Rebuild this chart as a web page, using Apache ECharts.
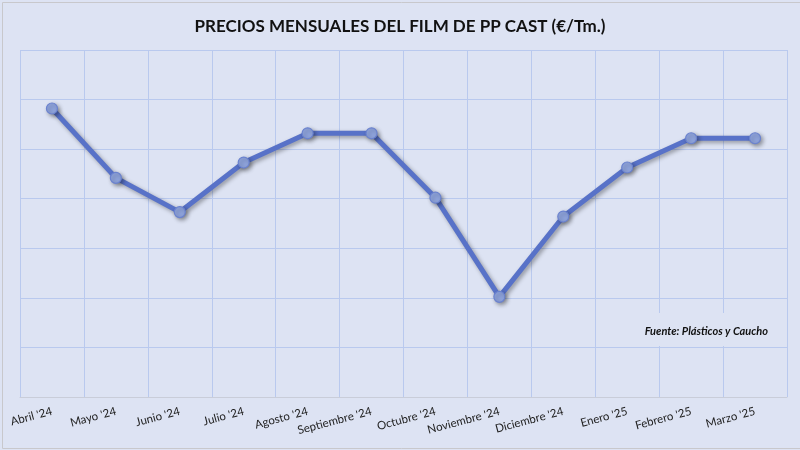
<!DOCTYPE html>
<html>
<head>
<meta charset="utf-8">
<script src="https://cdn.jsdelivr.net/npm/echarts@6/dist/echarts.min.js"></script>
<style>
html,body{margin:0;padding:0;background:#dde3f3;}
#c{width:800px;height:450px;}
</style>
</head>
<body>
<div id="c"></div>
<script>
const categories = ["Abril '24","Mayo '24","Junio '24","Julio '24","Agosto '24","Septiembre '24","Octubre '24","Noviembre '24","Diciembre '24","Enero '25","Febrero '25","Marzo '25"];
const prices = [2082,1942,1873,1973,2032,2032,1902,1702,1864,1963,2022,2022];
const titleText = "PRECIOS MENSUALES DEL FILM DE PP CAST (€/Tm.)";
const sourceText = "Fuente: Plásticos y Caucho";

const chart = echarts.init(document.getElementById('c'));
chart.setOption({
  backgroundColor: '#dde3f3',
  animation: false,
  title: {
    text: titleText,
    left: 'center',
    top: 13,
    textStyle: {fontFamily: 'Lato', fontWeight: 'bold', fontSize: 17, color: '#111'}
  },
  grid: {left: 20, right: 13, top: 50, bottom: 53},
  xAxis: {
    type: 'category',
    data: categories,
    boundaryGap: true,
    axisTick: {show: false},
    axisLine: {lineStyle: {color: '#c9cdd9', width: 1}},
    splitLine: {show: true, lineStyle: {color: '#b9c9ee', width: 1}},
    axisLabel: {rotate: 15, margin: 14, fontFamily: 'Lato', fontSize: 11.5, color: '#222', interval: 0}
  },
  yAxis: {
    type: 'value',
    min: 1500, max: 2200, interval: 100,
    axisLabel: {show: false},
    axisLine: {show: false},
    axisTick: {show: false},
    splitLine: {lineStyle: {color: '#b9c9ee', width: 1}}
  },
  graphic: [
    {type: 'rect', left: 0, top: 0, shape: {x: 0.5, y: 1.5, width: 799, height: 446}, style: {fill: 'none', stroke: '#c8c8cc', lineWidth: 1}, z: 100},
    {type: 'rect', shape: {x: 638, y: 313, width: 134, height: 33}, style: {fill: '#dde3f3'}, z: 10},
    {type: 'text', x: 768, y: 331, style: {text: sourceText, align: 'right', verticalAlign: 'middle', fontFamily: 'Lato', fontStyle: 'italic', fontWeight: 'bold', fontSize: 11, fill: '#111'}, z: 11}
  ],
  series: [{
    type: 'line',
    data: prices,
    symbol: 'circle',
    symbolSize: 11,
    lineStyle: {color: '#5872c8', width: 5, shadowColor: 'rgba(0,0,0,0.35)', shadowBlur: 4, shadowOffsetX: 2, shadowOffsetY: 2},
    itemStyle: {color: '#8fa4dd', borderColor: '#6a82cf', borderWidth: 1.2, shadowColor: 'rgba(0,0,0,0.35)', shadowBlur: 4, shadowOffsetX: 2, shadowOffsetY: 2}
  }]
});
</script>
</body>
</html>
